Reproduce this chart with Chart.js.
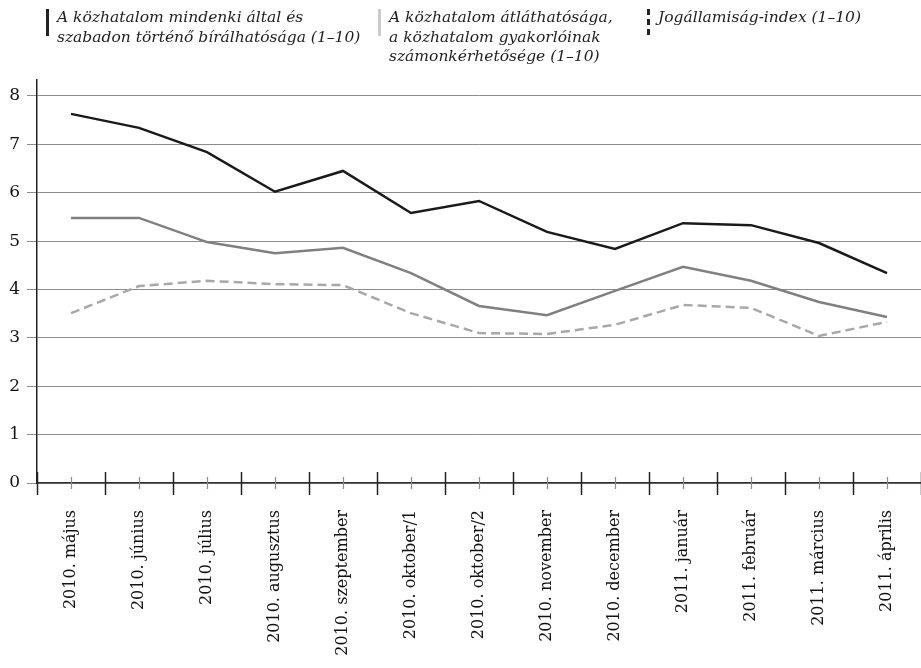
<!DOCTYPE html>
<html>
<head>
<meta charset="utf-8">
<script src="https://cdn.jsdelivr.net/npm/chart.js@4.4.0/dist/chart.umd.min.js"></script>
<style>
  html, body { margin: 0; padding: 0; background: #fff; }
  #wrap { position: relative; width: 921px; height: 668px; }
  #legend { position: absolute; top: 0; left: 0; width: 921px; height: 80px;
    font-family: "DejaVu Serif", "Liberation Serif", serif; font-style: italic;
    font-size: 15.5px; color: #1e1e1e; line-height: 19.5px; }
  .item { position: absolute; top: 8px; padding-left: 11px; white-space: nowrap; }
  .mark { position: absolute; left: 0; top: 1px; height: 27px; width: 0; border-left: 3px solid #222; }
</style>
</head>
<body>
<div id="wrap">
  <canvas id="lineChart" width="921" height="668"></canvas>
  <div id="legend">
    <div class="item" style="left:46px"><span class="mark" style="border-left-color:#222"></span>A közhatalom mindenki által és<br>szabadon történő bírálhatósága (1–10)</div>
    <div class="item" style="left:378px"><span class="mark" style="border-left-color:#ccc"></span>A közhatalom átláthatósága,<br>a közhatalom gyakorlóinak<br>számonkérhetősége (1–10)</div>
    <div class="item" style="left:647px"><span class="mark" style="border-left:3px dashed #222;height:26px"></span>Jogállamiság-index (1–10)</div>
  </div>
</div>
<script>
// Adatok
const labels = ["2010. május", "2010. június", "2010. július", "2010. augusztus", "2010. szeptember",
  "2010. oktober/1", "2010. oktober/2", "2010. november", "2010. december",
  "2011. január", "2011. február", "2011. március", "2011. április"];
const biralhatosag = [7.63, 7.34, 6.84, 6.02, 6.45, 5.58, 5.83, 5.19, 4.84, 5.37, 5.33, 4.96, 4.34];
const atlathatosag = [5.48, 5.48, 4.98, 4.75, 4.86, 4.34, 3.66, 3.47, 3.97, 4.47, 4.18, 3.74, 3.43];
const jogallamisag = [3.51, 4.07, 4.18, 4.11, 4.09, 3.51, 3.10, 3.08, 3.27, 3.68, 3.62, 3.04, 3.33];
const yTicks = [0, 1, 2, 3, 4, 5, 6, 7, 8];

const serif = "'DejaVu Serif', 'Liberation Serif', serif";

// x tengely jelölései: hosszú fekete a határokon, rövid szürke a közepén
const xTicksPlugin = {
  id: 'xTicks',
  afterDraw(chart) {
    const c = chart.ctx, x = chart.scales.x, y0 = chart.scales.y.getPixelForValue(0);
    c.save();
    c.lineWidth = 1.5;
    c.strokeStyle = '#222';
    for (let i = 0; i <= labels.length; i++) {
      const px = Math.round(x.getPixelForValue(i - 0.5)) + 0.5;
      c.beginPath(); c.moveTo(px, y0 - 11); c.lineTo(px, y0 + 12); c.stroke();
    }
    c.lineWidth = 1.2;
    c.strokeStyle = '#8a8a8a';
    for (let i = 0; i < labels.length; i++) {
      const px = Math.round(x.getPixelForValue(i)) + 0.5;
      c.beginPath(); c.moveTo(px, y0 - 6); c.lineTo(px, y0 + 6); c.stroke();
    }
    c.restore();
  }
};

const data = {
  labels: labels,
  datasets: [{
    label: "A közhatalom mindenki által és szabadon történő bírálhatósága (1–10)",
    data: biralhatosag,
    borderColor: "#1a1a1a",
    borderWidth: 2.5,
    pointRadius: 0,
    tension: 0
  }, {
    label: "A közhatalom átláthatósága, a közhatalom gyakorlóinak számonkérhetősége (1–10)",
    data: atlathatosag,
    borderColor: "#808080",
    borderWidth: 2.5,
    pointRadius: 0,
    tension: 0
  }, {
    label: "Jogállamiság-index (1–10)",
    data: jogallamisag,
    borderColor: "#a8a8a8",
    borderWidth: 2.5,
    borderDash: [9, 5],
    pointRadius: 0,
    tension: 0
  }]
};

const config = {
  type: 'line',
  data: data,
  options: {
    responsive: false,
    animation: false,
    layout: { autoPadding: false, padding: { top: 80, right: 0, left: 0, bottom: 0 } },
    plugins: { legend: { display: false }, tooltip: { enabled: false } },
    scales: {
      x: {
        offset: true,
        grid: { display: false, drawTicks: false },
        border: { display: true, color: '#333', width: 1.5 },
        ticks: {
          color: '#111',
          font: { family: serif, size: 16 },
          minRotation: 90,
          maxRotation: 90,
          padding: 27,
          autoSkip: false
        },
        afterFit(s) {
          s.height = 668 - 483;
          s.paddingLeft = 0;
          s.paddingRight = 0;
        }
      },
      y: {
        min: 0,
        max: 8.33,
        grid: { color: '#8c8c8c', lineWidth: 1, tickLength: 10, drawTicks: true },
        border: { display: true, color: '#222', width: 1.5 },
        afterBuildTicks(s) { s.ticks = yTicks.map(v => ({ value: v })); },
        ticks: {
          color: '#111',
          font: { family: serif, size: 17 },
          padding: 7
        },
        afterFit(s) { s.width = 37; s.paddingTop = 0; s.paddingBottom = 0; }
      }
    }
  },
  plugins: [xTicksPlugin]
};

const ctx = document.getElementById('lineChart').getContext('2d');
new Chart(ctx, config);
</script>
</body>
</html>
